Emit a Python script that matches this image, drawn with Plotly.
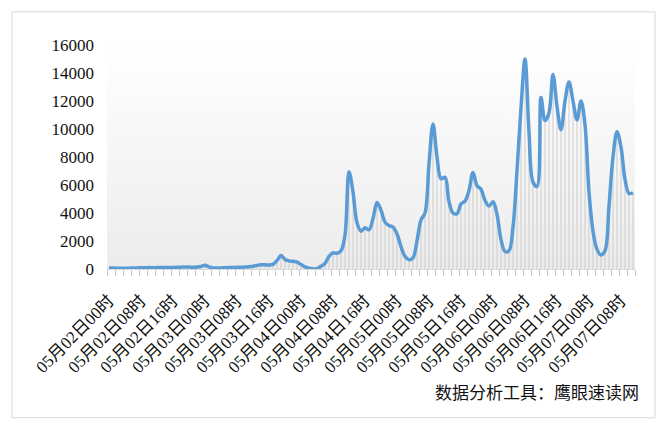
import plotly.graph_objects as go

# hourly values from 05月02日00时 to 05月07日11时
hours = list(range(132))
values = [
    80, 70, 60, 60, 50, 60, 70, 80, 90, 90,
    100, 90, 100, 110, 100, 100, 110, 120, 130, 150,
    140, 120, 140, 180, 270, 150, 80, 70, 80, 90,
    100, 110, 120, 130, 140, 160, 200, 260, 310, 300,
    280, 330, 600, 960, 680, 580, 550, 500, 320, 150,
    50, 10, 20, 200, 400, 900, 1150, 1120, 1300, 2400,
    6950, 5500, 3300, 2700, 2950, 2800, 3600, 4750, 4200, 3350,
    3100, 3000, 2500, 1600, 900, 660, 800, 2000, 3500, 4000,
    7500, 10350, 8000, 6450, 6550, 4800, 4000, 3950, 4650, 4850,
    5600, 6900, 5950, 5700, 4900, 4500, 4800, 3900, 2100, 1250,
    1300, 3000, 7000, 11500, 15000, 9800, 6200, 5900, 12250, 10600,
    11150, 13900, 11600, 9950, 12000, 13350, 12000, 10650, 12000, 10300,
    5500, 2700, 1400, 1000, 1300, 4500, 8000, 9800, 8700, 6400,
    5400, 5450,
]

tick_hours = [0, 8, 16, 24, 32, 40, 48, 56, 64, 72, 80, 88, 96, 104, 112, 120, 128]
tick_labels = [
    "05月02日00时", "05月02日08时", "05月02日16时", "05月03日00时",
    "05月03日08时", "05月03日16时", "05月04日00时", "05月04日08时",
    "05月04日16时", "05月05日00时", "05月05日08时", "05月05日16时",
    "05月06日00时", "05月06日08时", "05月06日16时", "05月07日00时",
    "05月07日08时",
]

y_ticks = [0, 2000, 4000, 6000, 8000, 10000, 12000, 14000, 16000]
y_labels = ["0", "2000", "4000", "6000", "8000", "10000", "12000", "14000", "16000"]

FONT = '"Liberation Serif", "Times New Roman", "Noto Sans CJK SC", serif'

fig = go.Figure()

# gradient background of the plot area
fig.add_trace(go.Scatter(
    x=[-0.5, 131.5], y=[16000, 16000], mode="lines",
    line=dict(width=0, color="rgba(0,0,0,0)"),
    fill="tozeroy",
    fillgradient=dict(type="vertical",
                      colorscale=[[0, "#ececec"], [1, "#ffffff"]]),
    hoverinfo="skip", showlegend=False,
))

# thin drop lines from each hourly point down to the axis
drop_x, drop_y = [], []
for h, v in zip(hours, values):
    drop_x += [h, h, None]
    drop_y += [0, v, None]
fig.add_trace(go.Scatter(
    x=drop_x, y=drop_y, mode="lines",
    line=dict(color="#cccccc", width=1),
    showlegend=False, hoverinfo="skip",
))

# smoothed line
fig.add_trace(go.Scatter(
    x=hours, y=values, mode="lines",
    line=dict(color="#5b9bd5", width=3.5, shape="spline", smoothing=1),
    showlegend=False,
))

fig.update_layout(
    width=669, height=428,
    margin=dict(l=99, r=42, t=37, b=167, autoexpand=False),
    paper_bgcolor="white", plot_bgcolor="white",
    font=dict(family=FONT, size=16, color="#111111"),
    xaxis=dict(
        range=[-0.5, 131.5], automargin=False,
        tickmode="array", tickvals=tick_hours, ticktext=tick_labels,
        tickangle=-45, ticks="", showgrid=False, zeroline=False,
        showline=True, linecolor="#d9d9d9", linewidth=1,
        tickfont=dict(family=FONT, size=17, color="#111111"),
        minor=dict(tick0=-0.5, dtick=2, ticks="outside", ticklen=6,
                   tickcolor="#c8c8c8", tickwidth=1, showgrid=False),
        ticklabelstandoff=14,
    ),
    yaxis=dict(
        range=[0, 16000], automargin=False,
        tickmode="array", tickvals=y_ticks, ticktext=y_labels,
        showgrid=False, zeroline=False, showline=False, ticks="",
        tickfont=dict(family=FONT, size=17, color="#111111"),
        ticklabelstandoff=12,
    ),
    annotations=[dict(
        text="数据分析工具：鹰眼速读网", xref="paper", yref="paper",
        x=1.011, y=-0.557, xanchor="right", yanchor="middle",
        showarrow=False, font=dict(family=FONT, size=17, color="#111111"),
    )],
    shapes=[dict(
        type="rect", xref="paper", yref="paper",
        x0=-0.18, x1=1.038, y0=-0.664, y1=1.148,
        line=dict(color="#d9d9d9", width=1), fillcolor="rgba(0,0,0,0)",
        layer="below",
    )],
)

fig.write_html("out.html")
